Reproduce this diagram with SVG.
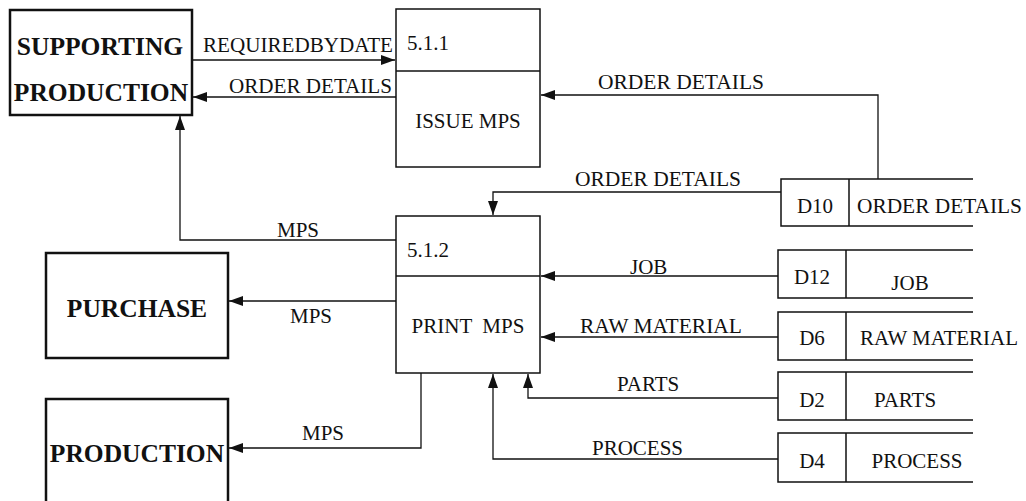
<svg xmlns="http://www.w3.org/2000/svg" width="1026" height="501" viewBox="0 0 1026 501">
<defs>
<style>
.ent{fill:#fff;stroke:#111;stroke-width:2.5}
.proc{fill:#fff;stroke:#111;stroke-width:1.5}
.ds{fill:none;stroke:#111;stroke-width:1.5}
.con{fill:none;stroke:#111;stroke-width:1.3}
.big{font-family:"Liberation Serif","Times New Roman",serif;font-weight:bold;font-size:25.5px;fill:#111}
.lbl{font-family:"Liberation Serif","Times New Roman",serif;font-size:21px;fill:#111}
</style>
<marker id="ah" markerUnits="userSpaceOnUse" markerWidth="14" markerHeight="10" refX="14" refY="5" orient="auto">
<path d="M0,0 L14,5 L0,10 z" fill="#111"/>
</marker>
</defs>
<rect width="1026" height="501" fill="#fff"/>

<g id="connectors">
<path class="con" d="M192,60 H395" marker-end="url(#ah)"/>
<path class="con" d="M396,97 H193" marker-end="url(#ah)"/>
<path class="con" d="M878,179 V95 H541" marker-end="url(#ah)"/>
<path class="con" d="M781,192 H493 V215" marker-end="url(#ah)"/>
<path class="con" d="M396,240 H180 V116" marker-end="url(#ah)"/>
<path class="con" d="M396,301 H229" marker-end="url(#ah)"/>
<path class="con" d="M421,373 V448 H229" marker-end="url(#ah)"/>
<path class="con" d="M778,276 H541" marker-end="url(#ah)"/>
<path class="con" d="M778,337 H541" marker-end="url(#ah)"/>
<path class="con" d="M778,398 H528 V374" marker-end="url(#ah)"/>
<path class="con" d="M778,459 H493 V374" marker-end="url(#ah)"/>
<text class="lbl" x="203" y="52" textLength="190" lengthAdjust="spacingAndGlyphs">REQUIREDBYDATE</text>
<text class="lbl" x="229" y="93" textLength="163" lengthAdjust="spacingAndGlyphs">ORDER DETAILS</text>
<text class="lbl" x="598" y="89" textLength="166" lengthAdjust="spacingAndGlyphs">ORDER DETAILS</text>
<text class="lbl" x="575" y="186" textLength="166" lengthAdjust="spacingAndGlyphs">ORDER DETAILS</text>
<text class="lbl" x="277" y="237">MPS</text>
<text class="lbl" x="290" y="323">MPS</text>
<text class="lbl" x="302" y="440">MPS</text>
<text class="lbl" x="630" y="274">JOB</text>
<text class="lbl" x="580" y="333" textLength="162" lengthAdjust="spacingAndGlyphs">RAW MATERIAL</text>
<text class="lbl" x="617" y="391">PARTS</text>
<text class="lbl" x="592" y="455">PROCESS</text>
</g>

<g id="supporting-production">
<rect class="ent" x="10" y="10" width="182" height="105"/>
<text class="big" x="100" y="55" text-anchor="middle">SUPPORTING</text>
<text class="big" x="101" y="101" text-anchor="middle">PRODUCTION</text>
</g>

<g id="purchase">
<rect class="ent" x="46" y="253" width="182" height="105"/>
<text class="big" x="137" y="317" text-anchor="middle">PURCHASE</text>
</g>

<g id="production">
<rect class="ent" x="46" y="399" width="182" height="110"/>
<text class="big" x="137" y="462" text-anchor="middle">PRODUCTION</text>
</g>

<g id="p511">
<rect class="proc" x="396" y="9" width="144" height="158"/>
<line class="proc" x1="396" y1="71" x2="540" y2="71"/>
<text class="lbl" x="407" y="50">5.1.1</text>
<text class="lbl" x="468" y="128" text-anchor="middle">ISSUE MPS</text>
</g>

<g id="p512">
<rect class="proc" x="396" y="216" width="144" height="157"/>
<line class="proc" x1="396" y1="276" x2="540" y2="276"/>
<text class="lbl" x="407" y="257">5.1.2</text>
<text class="lbl" x="468" y="333" text-anchor="middle" xml:space="preserve">PRINT  MPS</text>
</g>

<g id="d10">
<path class="ds" d="M973,179 H781 V226 H973 M849,179 V226"/>
<text class="lbl" x="815" y="213" text-anchor="middle">D10</text>
<text class="lbl" x="857" y="213" textLength="165" lengthAdjust="spacingAndGlyphs">ORDER DETAILS</text>
</g>

<g id="d12">
<path class="ds" d="M973,250 H778 V298 H973 M846,250 V298"/>
<text class="lbl" x="812" y="284" text-anchor="middle">D12</text>
<text class="lbl" x="910" y="290" text-anchor="middle">JOB</text>
</g>

<g id="d6">
<path class="ds" d="M973,312 H778 V360 H973 M846,312 V360"/>
<text class="lbl" x="812" y="345" text-anchor="middle">D6</text>
<text class="lbl" x="860" y="345" textLength="158" lengthAdjust="spacingAndGlyphs">RAW MATERIAL</text>
</g>

<g id="d2">
<path class="ds" d="M973,372 H778 V420 H973 M846,372 V420"/>
<text class="lbl" x="812" y="407" text-anchor="middle">D2</text>
<text class="lbl" x="905" y="407" text-anchor="middle">PARTS</text>
</g>

<g id="d4">
<path class="ds" d="M973,433 H778 V482 H973 M846,433 V482"/>
<text class="lbl" x="812" y="468" text-anchor="middle">D4</text>
<text class="lbl" x="917" y="468" text-anchor="middle">PROCESS</text>
</g>
</svg>
